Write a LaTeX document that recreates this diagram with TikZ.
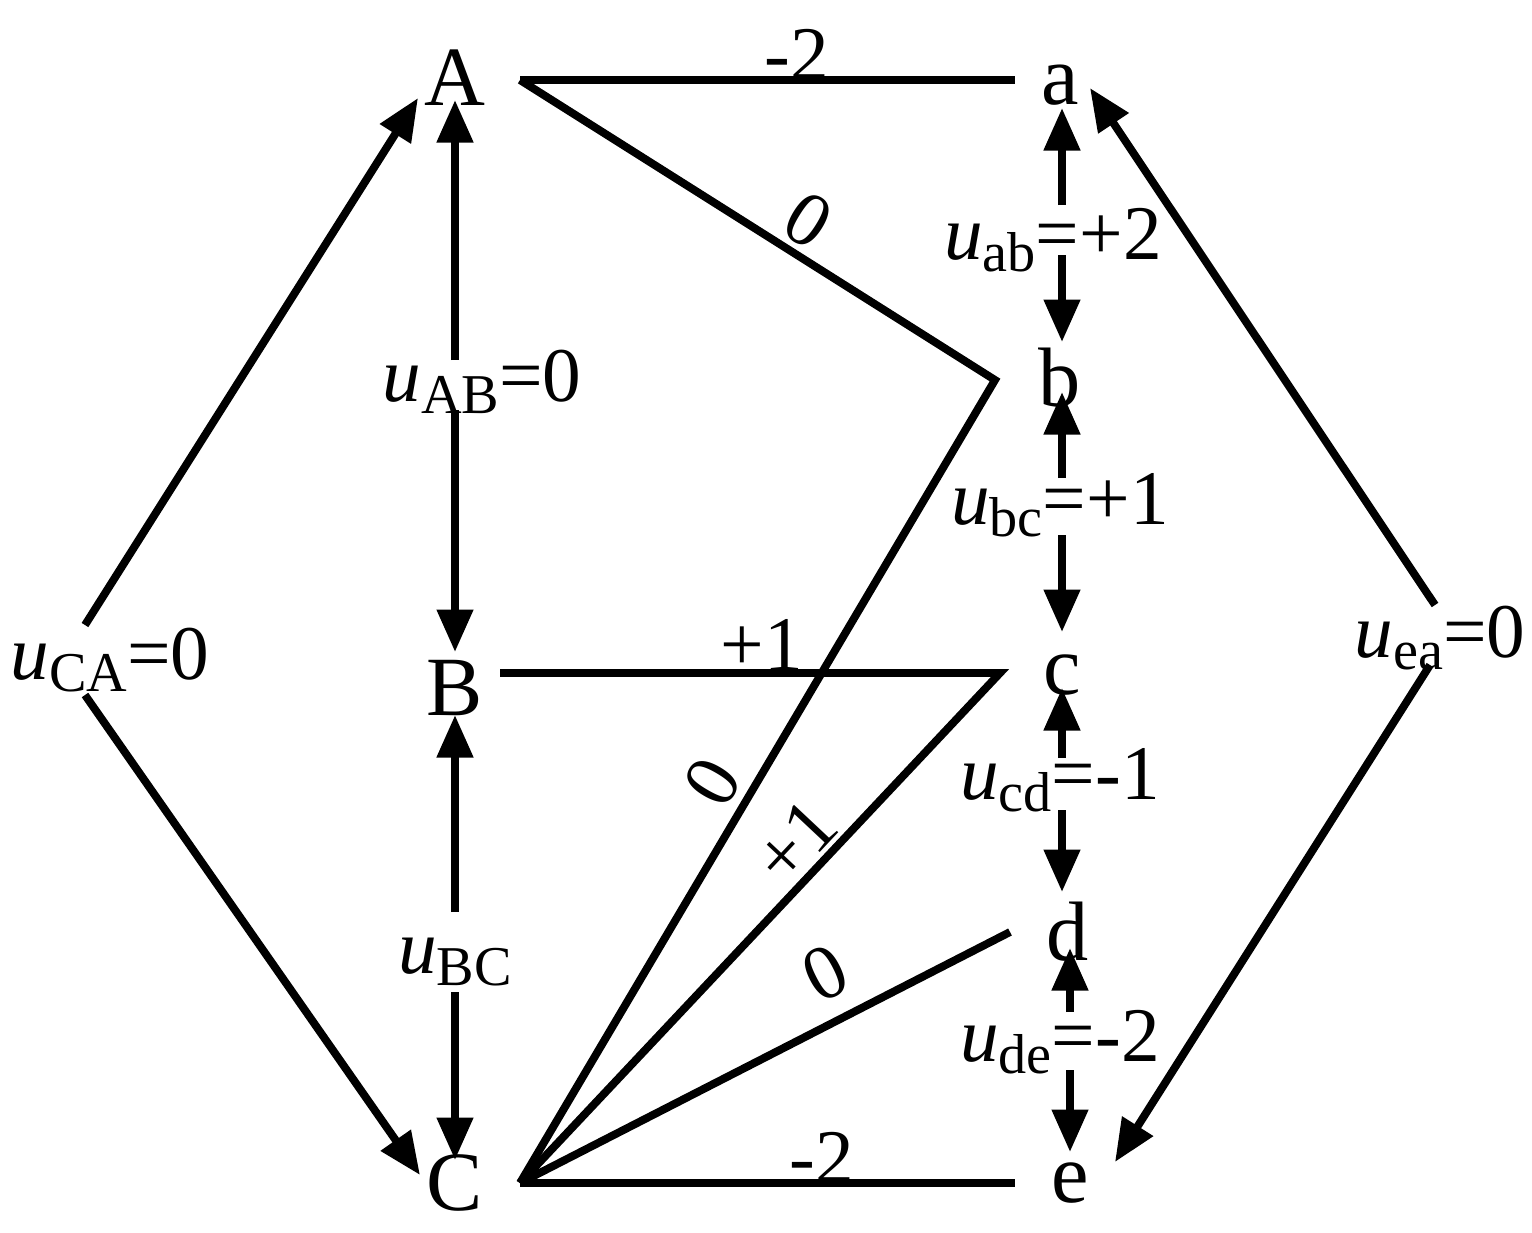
\documentclass[tikz,border=0pt]{standalone}
\usepackage{fontspec}
\setmainfont{Liberation Serif}
\usetikzlibrary{arrows.meta}
\begin{document}
\begin{tikzpicture}[x=0.02cm,y=-0.02cm,
  ln/.style={line width=4.5pt,line cap=butt},
  ar/.style={ln,-{Triangle[length=0.85cm,width=0.7cm]}},
  txt/.style={font=\fontsize{48}{58}\selectfont,inner sep=0pt},
  lab/.style={font=\fontsize{44}{52}\selectfont,inner sep=0pt}]
\useasboundingbox (0,0) rectangle (1532,1232);
\newcommand{\uu}[2]{\textit{u}\raisebox{-0.35ex}{\fontsize{32}{38}\selectfont #1}#2}
% vertex nodes
\node[txt] (A) at (455,78) {A};
\node[txt] (B) at (455,688) {B};
\node[txt] (C) at (455,1183) {C};
\node[txt] (a) at (1060,85) {a};
\node[txt] (b) at (1060,378) {b};
\node[txt] (c) at (1062,675) {c};
\node[txt] (d) at (1068,932) {d};
\node[txt] (e) at (1070,1183) {e};
% corner coordinates
\coordinate (A1) at (520,80);
\coordinate (a1) at (1015,80);
\coordinate (b1) at (995,380);
\coordinate (C1) at (520,1183);
\coordinate (B1) at (500,673);
\coordinate (c1) at (1000,673);
\coordinate (d1) at (1010,932);
\coordinate (e1) at (1015,1183);
\draw[ln] (A1) -- (a1);
\draw[ln,line join=miter] (A1) -- (b1) -- (C1);
\draw[ln,line join=miter] (B1) -- (c1) -- (C1);
\draw[ln] (d1) -- (C1);
\draw[ln] (C1) -- (e1);
\node[lab] at (797,55) {-2};
\node[lab] at (762,645) {+1};
\node[lab] at (822,1158) {-2};
\node[lab,rotate=-32] at (808,220) {0};
\node[lab,rotate=59.5] at (712,782) {0};
\node[lab,rotate=46.8] at (795,842) {+1};
\node[lab,rotate=27] at (825,973) {0};
% voltage labels
\node[lab] (uAB) at (482,382) {\uu{AB}{=0}};
\node[lab] (uBC) at (455,962) {\uu{BC}{}};
\node[lab] (uCA) at (110,660) {\uu{CA}{=0}};
\node[lab] (uab) at (1053,240) {\uu{ab}{=+2}};
\node[lab] (ubc) at (1060,505) {\uu{bc}{=+1}};
\node[lab] (ucd) at (1060,780) {\uu{cd}{=-1}};
\node[lab] (ude) at (1060,1042) {\uu{de}{=-2}};
\node[lab] (uea) at (1440,638) {\uu{ea}{=0}};
% arrows
\coordinate (p1) at (455,360); \coordinate (q1) at (455,100);
\coordinate (p2) at (455,410); \coordinate (q2) at (455,652);
\draw[ar] (p1) -- (q1); \draw[ar] (p2) -- (q2);
\coordinate (p3) at (455,912); \coordinate (q3) at (455,715);
\coordinate (p4) at (455,992); \coordinate (q4) at (455,1160);
\draw[ar] (p3) -- (q3); \draw[ar] (p4) -- (q4);
\coordinate (p5) at (1062,205); \coordinate (q5) at (1062,108);
\coordinate (p6) at (1062,255); \coordinate (q6) at (1062,342);
\draw[ar] (p5) -- (q5); \draw[ar] (p6) -- (q6);
\coordinate (p7) at (1062,478); \coordinate (q7) at (1062,392);
\coordinate (p8) at (1062,535); \coordinate (q8) at (1062,632);
\draw[ar] (p7) -- (q7); \draw[ar] (p8) -- (q8);
\coordinate (p9) at (1062,758); \coordinate (q9) at (1062,688);
\coordinate (p10) at (1062,810); \coordinate (q10) at (1062,892);
\draw[ar] (p9) -- (q9); \draw[ar] (p10) -- (q10);
\coordinate (p11) at (1070,1012); \coordinate (q11) at (1070,948);
\coordinate (p12) at (1070,1070); \coordinate (q12) at (1070,1152);
\draw[ar] (p11) -- (q11); \draw[ar] (p12) -- (q12);
\coordinate (p13) at (85,625); \coordinate (q13) at (418,98);
\coordinate (p14) at (85,695); \coordinate (q14) at (420,1175);
\draw[ar] (p13) -- (q13); \draw[ar] (p14) -- (q14);
\coordinate (p15) at (1435,605); \coordinate (q15) at (1090,88);
\coordinate (p16) at (1430,665); \coordinate (q16) at (1115,1162);
\draw[ar] (p15) -- (q15); \draw[ar] (p16) -- (q16);
\end{tikzpicture}
\end{document}
